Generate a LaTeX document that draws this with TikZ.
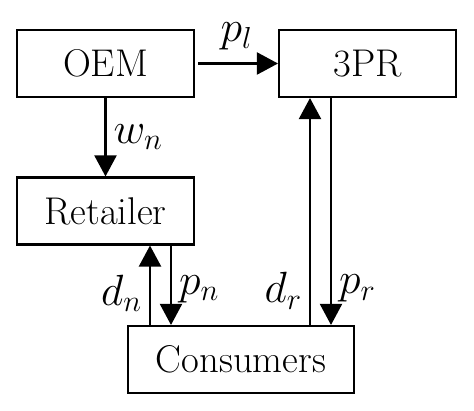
\documentclass[tikz,border=0pt]{standalone}
\usepackage{tikz}
\usetikzlibrary{calc,arrows.meta}

\begin{document}
\begin{tikzpicture}[x=0.02cm,y=-0.02cm,
   box/.style={draw,line width=1.2pt,minimum height=1.34cm,inner sep=0pt,font=\fontsize{22}{26}\selectfont},
   arr/.style={line width=1.2pt,-{Triangle[length=0.42cm,width=0.44cm]}},
   lab/.style={font=\fontsize{25}{30}\selectfont,inner sep=4pt}]
   \def\bw{3.54cm}
   \useasboundingbox (0,0) rectangle (474,411);
   % the four parties
   \node[box,minimum width=\bw] (oem) at (105.5,63.5) {OEM};
   \node[box,minimum width=\bw] (tpr) at (367.5,63.5) {3PR};
   \node[box,minimum width=\bw] (ret) at (105.5,211) {Retailer};
   \node[box,minimum width=4.52cm] (con) at (241,359.5) {Consumers};
   % ends of the vertical flows
   \coordinate (dn) at ($(ret.south)+(44.5,0)$);
   \coordinate (pn) at ($(ret.south)+(65.5,0)$);
   \coordinate (dr) at ($(tpr.south)+(-57.5,0)$);
   \coordinate (pr) at ($(tpr.south)+(-36.5,0)$);
   % flows
   \draw[arr,shorten <=0.06cm] (oem.east) -- node[lab,above,yshift=3pt]{$p_l$} (tpr.west);
   \draw[arr] (oem.south) -- node[lab,right]{$w_n$} (ret.north);
   \draw[arr] (dn |- con.north) -- node[lab,left,pos=0.4]{$d_n$} (dn);
   \draw[arr] (pn) -- node[lab,right,pos=0.55]{$p_n$} (pn |- con.north);
   \draw[arr] (dr |- con.north) -- node[lab,left,pos=0.15]{$d_r$} (dr);
   \draw[arr] (pr) -- node[lab,right,pos=0.84]{$p_r$} (pr |- con.north);
\end{tikzpicture}
\end{document}
